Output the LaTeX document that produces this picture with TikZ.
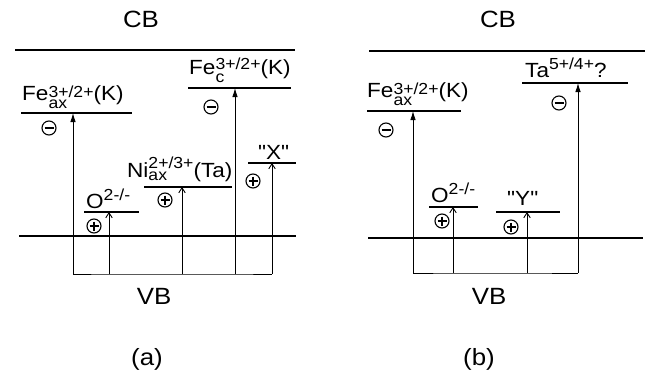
\documentclass[tikz,border=0pt]{standalone}
\usepackage{fontspec}
\newfontfamily\lsans[FakeStretch=1.1]{Liberation Sans}
\usetikzlibrary{arrows.meta}
\newcommand\mainsz{\lsans\fontsize{20.5}{22}\selectfont}
\newcommand\scrsz{\lsans\fontsize{16}{17}\selectfont}
\newcommand\SupSub[4]{%
 \setbox0=\hbox{\scrsz #1}\setbox2=\hbox{\scrsz #2}%
 \dimen0=\ifdim\wd0>\wd2 \wd0\else\wd2\fi
 \rlap{\raise #3\box0}\rlap{\lower #4\box2}\hskip\dimen0\relax}
\newcommand\Sup[2]{\raise #2\hbox{\scrsz #1}}
\begin{document}
\begin{tikzpicture}[x=1pt,y=-1pt,
  band/.style={line width=2.3pt},
  level/.style={line width=1.2pt},
  conn/.style={line width=0.9pt},
  fillarr/.style={conn,-{Latex[length=9pt,width=5.5pt]}},
  openarr/.style={conn,-{Straight Barb[length=5pt,width=6.5pt]}},
  lab/.style={anchor=base west,inner sep=0pt,font=\mainsz},
  big/.style={inner sep=0pt,font=\lsans\fontsize{23.5}{25}\selectfont},
  minusc/.style={circle,draw,line width=1.1pt,minimum size=14pt,inner sep=0pt,
    path picture={\draw[line width=1.1pt] ([xshift=2.5pt]path picture bounding box.west) -- ([xshift=-2.5pt]path picture bounding box.east);}},
  plusc/.style={circle,draw,line width=1.1pt,minimum size=14pt,inner sep=0pt,
    path picture={\draw[line width=1.1pt] ([xshift=2.5pt]path picture bounding box.west) -- ([xshift=-2.5pt]path picture bounding box.east);
      \draw[line width=1.1pt] ([yshift=-2.5pt]path picture bounding box.north) -- ([yshift=2.5pt]path picture bounding box.south);}}]
\useasboundingbox (0,0) rectangle (646,373);

% ================= panel (a) =================
\node[big] (cba) at (141,19) {CB};
\coordinate (cba1) at (15,50); \coordinate (cba2) at (295,50);
\draw[band] (cba1) -- (cba2);
\coordinate (vba1) at (19,236); \coordinate (vba2) at (296,236);
\draw[band] (vba1) -- (vba2);
\node[big] (vba) at (154,296) {VB};
\node[big] (capa) at (147,359) {(a)};

% Fe_ax level
\coordinate (fea1) at (21,113); \coordinate (fea2) at (132,113);
\draw[level] (fea1) -- (fea2);
\node[lab] (feal) at (22,100) {Fe\SupSub{3+/2+}{ax}{3pt}{8pt}(K)};
\node[minusc] (feam) at (49,128) {};
\coordinate (feat) at (73,113); \coordinate (feab) at (73,274);
\draw[fillarr] (feab) -- (feat);

% Fe_c level
\coordinate (fec1) at (188,88); \coordinate (fec2) at (291,88);
\draw[level] (fec1) -- (fec2);
\node[lab] (fecl) at (189,74) {Fe\SupSub{3+/2+}{c}{5pt}{8pt}(K)};
\node[minusc] (fecm) at (211,107) {};
\coordinate (fect) at (235,88); \coordinate (fecb) at (235,274);
\draw[fillarr] (fecb) -- (fect);

% O level
\coordinate (oa1) at (84,212); \coordinate (oa2) at (139,212);
\draw[level] (oa1) -- (oa2);
\node[lab] (oal) at (86,208) {O\Sup{2-/-}{8pt}};
\node[plusc] (oap) at (94,226) {};
\coordinate (oat) at (109,212); \coordinate (oab) at (109,274);
\draw[openarr] (oab) -- (oat);

% Ni level
\coordinate (ni1) at (144,187); \coordinate (ni2) at (232,187);
\draw[level] (ni1) -- (ni2);
\node[lab] (nil) at (127,177) {Ni\SupSub{2+/3+}{ax}{9pt}{3pt}(Ta)};
\node[plusc] (nip) at (165,200) {};
\coordinate (nit) at (182,187); \coordinate (nib) at (182,274);
\draw[openarr] (nib) -- (nit);

% X level
\coordinate (x1) at (248,163); \coordinate (x2) at (296,163);
\draw[level] (x1) -- (x2);
\node[lab] (xl) at (258,159) {"X"};
\node[plusc] (xp) at (253,181) {};
\coordinate (xt) at (272,163); \coordinate (xb) at (272,274);
\draw[openarr] (xb) -- (xt);

% bracket
\draw[conn] (feab) -- (oab) -- (nib) -- (fecb) -- (xb);

% ================= panel (b) =================
\node[big] (cbb) at (498,19) {CB};
\coordinate (cbb1) at (369,51); \coordinate (cbb2) at (645,51);
\draw[band] (cbb1) -- (cbb2);
\coordinate (vbb1) at (368,238); \coordinate (vbb2) at (643,238);
\draw[band] (vbb1) -- (vbb2);
\node[big] (vbb) at (489,296) {VB};
\node[big] (capb) at (479,359) {(b)};

% Fe_ax level
\coordinate (feb1) at (367,111); \coordinate (feb2) at (461,111);
\draw[level] (feb1) -- (feb2);
\node[lab] (febl) at (367,97) {Fe\SupSub{3+/2+}{ax}{3pt}{8pt}(K)};
\node[minusc] (febm) at (386,130) {};
\coordinate (febt) at (413,111); \coordinate (febb) at (413,273);
\draw[fillarr] (febb) -- (febt);

% Ta level
\coordinate (ta1) at (522,83); \coordinate (ta2) at (628,83);
\draw[level] (ta1) -- (ta2);
\node[lab] (tal) at (525,77) {Ta\Sup{5+/4+}{8pt}?};
\node[minusc] (tam) at (559,103) {};
\coordinate (tat) at (578,83); \coordinate (tab) at (578,273);
\draw[fillarr] (tab) -- (tat);

% O level
\coordinate (ob1) at (429,207); \coordinate (ob2) at (478,207);
\draw[level] (ob1) -- (ob2);
\node[lab] (obl) at (431,202) {O\Sup{2-/-}{8pt}};
\node[plusc] (obp) at (442,221) {};
\coordinate (obt) at (453,207); \coordinate (obb) at (453,273);
\draw[openarr] (obb) -- (obt);

% Y level
\coordinate (y1) at (496,212); \coordinate (y2) at (560,212);
\draw[level] (y1) -- (y2);
\node[lab] (yl) at (507,205) {"Y"};
\node[plusc] (yp) at (511,227) {};
\coordinate (yt) at (527,212); \coordinate (yb) at (527,273);
\draw[openarr] (yb) -- (yt);

% bracket
\draw[conn] (febb) -- (obb) -- (yb) -- (tab);
\end{tikzpicture}
\end{document}
